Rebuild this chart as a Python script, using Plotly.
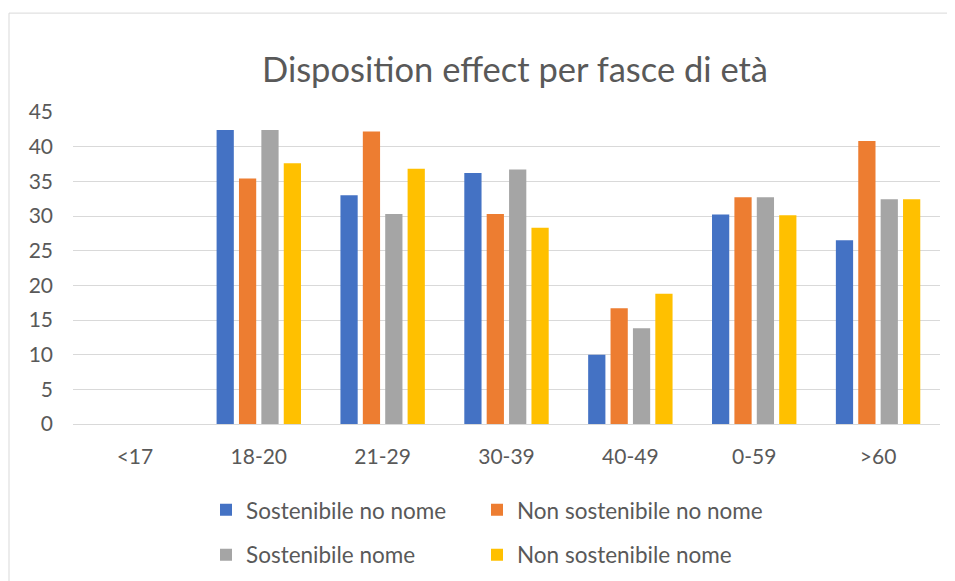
import plotly.graph_objects as go

categories = ["<17", "18-20", "21-29", "30-39", "40-49", "0-59", ">60"]
sost_no_nome = [None, 42.4, 33.0, 36.2, 10.0, 30.2, 26.5]
non_sost_no_nome = [None, 35.4, 42.2, 30.3, 16.7, 32.7, 40.8]
sost_nome = [None, 42.4, 30.3, 36.7, 13.8, 32.7, 32.4]
non_sost_nome = [None, 37.6, 36.8, 28.3, 18.8, 30.1, 32.4]
series_names = ["Sostenibile no nome", "Non sostenibile no nome", "Sostenibile nome", "Non sostenibile nome"]
colors = ["#4472C4", "#ED7D31", "#A5A5A5", "#FFC000"]
y_ticks = [0, 5, 10, 15, 20, 25, 30, 35, 40, 45]

# figure is drawn inside the page body (8px default margin)
W, H = 947, 573
L, T = 65, 104
R = W - 932
B = H - 416.3
pw, ph = W - L - R, H - T - B

FONT = "Lato"
GREY_TXT = "#595959"

def px2x(px):
    return (px - L) / pw

def py2y(py):
    return (H - B - py) / ph

legend_ids = ["legend", "legend2", "legend3", "legend4"]
legend_pos = [(198, 502.5), (469, 502.5), (198, 547.5), (469, 547.5)]

fig = go.Figure()
all_series = [sost_no_nome, non_sost_no_nome, sost_nome, non_sost_nome]
for name, vals, col, lg in zip(series_names, all_series, colors, legend_ids):
    fig.add_trace(go.Bar(x=categories, y=vals, name=name, marker_color=col,
                         marker_line_width=0, legend=lg))

legend_common = dict(orientation="h", xanchor="left", yanchor="middle",
                     font=dict(family=FONT, size=22.5, color=GREY_TXT),
                     bgcolor="rgba(0,0,0,0)", itemclick=False)
legend_layout = {lg: dict(x=px2x(x), y=py2y(y), **legend_common)
                 for lg, (x, y) in zip(legend_ids, legend_pos)}

fig.update_layout(
    width=W, height=H,
    margin=dict(l=L, r=R, t=T, b=B, autoexpand=False),
    paper_bgcolor="white", plot_bgcolor="white",
    barmode="group", bargap=0.277, bargroupgap=0.23,
    title=dict(text="Disposition effect per fasce di età", x=507 / W, xanchor="center",
               xref="container", y=(H - 62) / H, yanchor="middle", yref="container",
               font=dict(family=FONT, size=34.5, color=GREY_TXT)),
    xaxis=dict(showgrid=False, showline=False, zeroline=False, ticks="",
               tickfont=dict(family=FONT, size=21, color=GREY_TXT), ticklabelstandoff=18),
    yaxis=dict(range=[0, 45], tickvals=y_ticks, showgrid=True, gridcolor="#D9D9D9",
               gridwidth=1, zeroline=True, zerolinecolor="#D9D9D9", zerolinewidth=1,
               showline=False, ticks="", ticklabelstandoff=19,
               tickfont=dict(family=FONT, size=21, color=GREY_TXT)),
    shapes=[dict(type="rect", xref="paper", yref="paper",
                 x0=px2x(1), x1=px2x(W + 5), y0=py2y(H + 5), y1=py2y(5),
                 line=dict(color="#D9D9D9", width=1), fillcolor="rgba(0,0,0,0)", layer="below")],
    showlegend=True,
    **legend_layout,
)

fig.write_html("out.html")
